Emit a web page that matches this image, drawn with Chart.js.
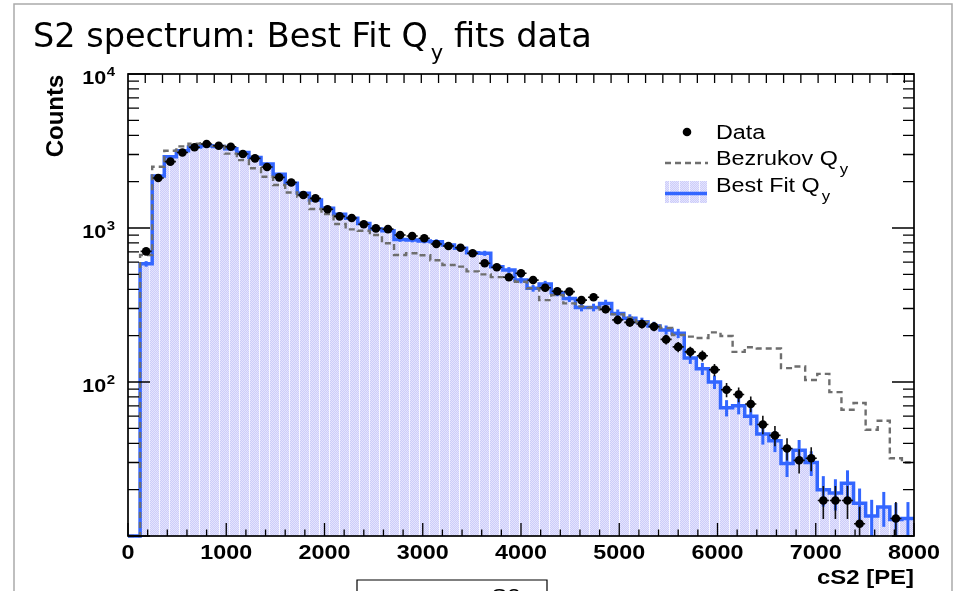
<!DOCTYPE html>
<html><head><meta charset="utf-8">
<script src="https://cdn.jsdelivr.net/npm/chart.js@4"></script>
<style>html,body{margin:0;padding:0;background:#fff}canvas{display:block}</style>
</head><body>
<canvas id="c" width="957" height="591"></canvas>
<script>
// ---------- data ----------
const BIN_COUNT = 65;
const X_MIN = 0, X_MAX = 8000;
const Y_MIN = 10, Y_MAX = 10000;
const xTickLabels = ['0','1000','2000','3000','4000','5000','6000','7000','8000'];
const xTickValues = [0,1000,2000,3000,4000,5000,6000,7000,8000];
const yTickExponents = [2,3,4];
const titleParts = ['S2 spectrum: Best Fit Q', 'y', ' fits data'];
const xAxisTitle = 'cS2 [PE]';
const yAxisTitle = 'Counts';
const legendLabels = [['Data',''],['Bezrukov Q','y'],['Best Fit Q','y']];

const dataCounts = [0,705,2110,2697,3095,3342,3510,3420,3372,3025,2833,2490,2133,1975,1637,1558,
 1325,1190,1160,1057,995,983,901,887,857,787,764,745,685,590,556,479,508,459,409,388,386,340,355,
 297,253,244,238,229,189,169,157,148,120,89,83,72,53,45,37,31,32,17,17,17,12,0,0,13,0];
const bestFitQy = [0,585,2180,2904,3170,3355,3415,3380,3265,3090,2870,2600,2236,1950,1680,1520,
 1343,1230,1155,1071,985,960,842,836,824,815,776,738,690,685,561,534,459,406,433,380,349,305,305,
 324,279,259,246,231,218,207,143,122,100,68,70,60,46,41.5,29.6,36,30,20,19,22,16.3,13.5,15.4,12.8,13];
const bezrukovQy = [0,668,2500,3175,3390,3530,3560,3405,3040,2760,2443,2153,1900,1700,1597,1330,
 1230,1061,980,960,900,796,668,685,665,617,575,561,523,500,480,473,448,406,340,367,324,310,305,
 295,275,262,245,232,224,202,197,193,210,199,157,168,165,165,123,126,103,113,86,66,73,49,56,32,30];

// ---------- helpers ----------
const SX = 1.196;           // horizontal stretch of the axis/legend text
const TOP_TICK_STEP = 175.6; // PE
const binW = (X_MAX - X_MIN) / BIN_COUNT;
const edges = Array.from({length: BIN_COUNT + 1}, (_, i) => X_MIN + i * binW);
const centers = edges.slice(0, -1).map((e, i) => (e + edges[i + 1]) / 2);
function stepPoints(vals){
  const pts = vals.map((v, i) => ({x: edges[i], y: Math.max(v, Y_MIN)}));
  pts.push({x: edges[BIN_COUNT], y: Math.max(vals[vals.length - 1], Y_MIN)});
  return pts;
}
const dataPts = dataCounts.map((v, i) => ({x: centers[i], y: v > 0 ? v : null}));

function makeHatch(ctx){
  const c = document.createElement('canvas'); c.width = 10; c.height = 2;
  const g = c.getContext('2d');
  g.fillStyle = 'rgb(204,204,250)'; g.fillRect(0,0,10,2);
  g.fillStyle = 'rgb(228,228,253)';
  for (let x = 0; x < 9; x++) g.fillRect(x, x % 2, 1, 1);
  g.fillStyle = 'rgb(246,246,255)'; g.fillRect(9,0,1,2);
  return ctx.createPattern(c, 'repeat');
}
function sText(ctx, str, x, y, font, align, sx){
  ctx.save(); ctx.font = font; ctx.translate(x, y); ctx.scale(sx || SX, 1);
  ctx.textAlign = align || 'left'; ctx.textBaseline = 'alphabetic';
  ctx.fillText(str, 0, 0); ctx.restore();
}
function sWidth(ctx, str, font, sx){
  ctx.save(); ctx.font = font; const w = ctx.measureText(str).width * (sx || SX); ctx.restore(); return w;
}

const BLUE = '#3366ff', GRAY = '#6e6e6e';
const canvas = document.getElementById('c');
const ctx0 = canvas.getContext('2d');
const hatch = makeHatch(ctx0);

const errPlugin = {
  id: 'errs',
  beforeDatasetDraw(chart, args){
    if (args.index !== 0) return;
    const {ctx, scales: {x, y}} = chart;
    ctx.save(); ctx.strokeStyle = '#111'; ctx.lineWidth = 1.6;
    dataCounts.forEach((v, i) => {
      if (v <= 0) return;
      const e = Math.sqrt(v);
      const px = x.getPixelForValue(centers[i]);
      const py = y.getPixelForValue(v);
      ctx.beginPath();
      ctx.moveTo(px, y.getPixelForValue(Math.max(v - e, Y_MIN)));
      ctx.lineTo(px, y.getPixelForValue(v + e));
      ctx.moveTo(x.getPixelForValue(edges[i]) + 0.5, py);
      ctx.lineTo(x.getPixelForValue(edges[i + 1]) - 0.5, py);
      ctx.stroke();
    });
    ctx.restore();
  },
  afterDatasetDraw(chart, args){
    if (args.index !== 2) return;
    const {ctx, scales: {x, y}} = chart;
    ctx.save(); ctx.strokeStyle = BLUE; ctx.lineWidth = 3;
    bestFitQy.forEach((v, i) => {
      if (v <= 0) return;
      const e = Math.sqrt(v);
      const px = x.getPixelForValue(centers[i]);
      ctx.beginPath();
      ctx.moveTo(px, y.getPixelForValue(Math.max(v - e, Y_MIN)));
      ctx.lineTo(px, y.getPixelForValue(v + e));
      ctx.stroke();
    });
    ctx.restore();
  }
};

const framePlugin = {
  id: 'frame',
  afterDraw(chart){
    const {ctx, chartArea: a, scales: {x, y}} = chart;
    ctx.save();
    // canvas border
    ctx.strokeStyle = 'rgb(170,170,170)'; ctx.lineWidth = 1.5;
    ctx.beginPath(); ctx.moveTo(14, 591); ctx.lineTo(14, 4); ctx.lineTo(952, 4); ctx.lineTo(952, 591); ctx.stroke();
    // frame
    ctx.strokeStyle = '#000'; ctx.lineWidth = 1.7;
    ctx.strokeRect(a.left, a.top, a.right - a.left, a.bottom - a.top);
    ctx.lineWidth = 1.3;
    ctx.beginPath();
    for (let v = X_MIN; v <= X_MAX + 1e-6; v += 200){
      const px = x.getPixelForValue(v);
      const len = (Math.round(v) % 1000 === 0) ? 13 : 6.5;
      ctx.moveTo(px, a.bottom); ctx.lineTo(px, a.bottom - len);
    }
    for (let v = X_MIN + TOP_TICK_STEP; v < X_MAX; v += TOP_TICK_STEP){
      const px = x.getPixelForValue(v);
      ctx.moveTo(px, a.top); ctx.lineTo(px, a.top + 9);
    }
    for (let d = 1; d <= 4; d++){
      for (let m = 1; m <= 9; m++){
        const v = m * Math.pow(10, d);
        if (v < Y_MIN || v > Y_MAX) continue;
        const py = y.getPixelForValue(v);
        const len = m === 1 ? 22 : 11;
        ctx.moveTo(a.left, py); ctx.lineTo(a.left + len, py);
        ctx.moveTo(a.right, py); ctx.lineTo(a.right - len, py);
      }
    }
    ctx.stroke();

    // tick labels
    ctx.fillStyle = '#000';
    const fX = 'bold 19.5px "Liberation Sans", Arial, sans-serif';
    xTickValues.forEach((v, i) => sText(ctx, xTickLabels[i], x.getPixelForValue(v), a.bottom + 23, fX, 'center'));
    const fB = 'bold 18px "Liberation Sans", Arial, sans-serif';
    const fE = 'bold 12.5px "Liberation Sans", Arial, sans-serif';
    yTickExponents.forEach(e => {
      const py = y.getPixelForValue(Math.pow(10, e));
      const we = sWidth(ctx, String(e), fE);
      const right = a.left - 13;
      sText(ctx, String(e), right, py + 2, fE, 'right');
      sText(ctx, '10', right - we - 0.5, py + 10, fB, 'right');
    });
    // axis titles
    sText(ctx, xAxisTitle, a.right, 584, 'bold 20px "Liberation Sans", Arial, sans-serif', 'right');
    ctx.save(); ctx.translate(63, 116); ctx.rotate(-Math.PI / 2);
    ctx.font = 'bold 24px "Liberation Sans", Arial, sans-serif'; ctx.textAlign = 'center';
    ctx.fillText(yAxisTitle, 0, 0); ctx.restore();

    // title
    const fT = '33.5px "DejaVu Sans", sans-serif';
    const fTs = '21px "DejaVu Sans", sans-serif';
    let tx = 33;
    sText(ctx, titleParts[0], tx, 47, fT, 'left', 1); tx += sWidth(ctx, titleParts[0], fT, 1) + 3;
    sText(ctx, titleParts[1], tx, 60, fTs, 'left', 1); tx += sWidth(ctx, titleParts[1], fTs, 1);
    sText(ctx, titleParts[2], tx, 47, fT, 'left', 1);

    // legend
    const fL = '19.5px "Liberation Sans", Arial, sans-serif';
    const fLs = '14px "Liberation Sans", Arial, sans-serif';
    ctx.fillStyle = '#000';
    ctx.beginPath(); ctx.arc(687, 132, 4.3, 0, Math.PI * 2); ctx.fill();
    ctx.strokeStyle = GRAY; ctx.lineWidth = 2.4; ctx.setLineDash([6, 4]);
    ctx.beginPath(); ctx.moveTo(665, 163); ctx.lineTo(708, 163); ctx.stroke();
    ctx.setLineDash([]);
    ctx.fillStyle = hatch; ctx.fillRect(665, 181, 42, 22);
    ctx.strokeStyle = BLUE; ctx.lineWidth = 3.6;
    ctx.beginPath(); ctx.moveTo(665, 193.5); ctx.lineTo(707, 193.5); ctx.stroke();
    ctx.fillStyle = '#000';
    const bases = [139, 165, 192];
    legendLabels.forEach((lab, i) => {
      sText(ctx, lab[0], 716, bases[i], fL);
      if (lab[1]) sText(ctx, lab[1], 716 + sWidth(ctx, lab[0], fL) + 2, bases[i] + 9, fLs);
    });

    // partially visible box at the bottom
    ctx.strokeStyle = '#000'; ctx.lineWidth = 1.2;
    ctx.beginPath(); ctx.moveTo(357, 591); ctx.lineTo(357, 580); ctx.lineTo(547, 580); ctx.lineTo(547, 591); ctx.stroke();
    sText(ctx, 'cS2', 500, 603, '20px "Liberation Sans", Arial, sans-serif', 'center');
    ctx.restore();
  }
};

new Chart(canvas, {
  type: 'line',
  data: {datasets: [
    {label: 'Data', data: dataPts, showLine: false, pointRadius: 4.3, pointHoverRadius: 4.3,
     pointBackgroundColor: '#000', pointBorderWidth: 0, borderColor: '#000'},
    {label: 'Bezrukov Qy', data: stepPoints(bezrukovQy), stepped: 'before', borderColor: GRAY,
     borderWidth: 2.4, borderDash: [6, 4], pointRadius: 0, fill: false, clip: false},
    {label: 'Best Fit Qy', data: stepPoints(bestFitQy), stepped: 'before', borderColor: BLUE,
     borderWidth: 3.5, pointRadius: 0, fill: 'start', backgroundColor: hatch, clip: false}
  ]},
  options: {
    responsive: false, animation: false, devicePixelRatio: 1, events: [],
    layout: {padding: {left: 128, right: 43, top: 74, bottom: 55}},
    scales: {
      x: {type: 'linear', min: X_MIN, max: X_MAX, display: false},
      y: {type: 'logarithmic', min: Y_MIN, max: Y_MAX, display: false}
    },
    plugins: {legend: {display: false}, tooltip: {enabled: false}, title: {display: false}}
  },
  plugins: [errPlugin, framePlugin]
});
</script>
</body></html>
